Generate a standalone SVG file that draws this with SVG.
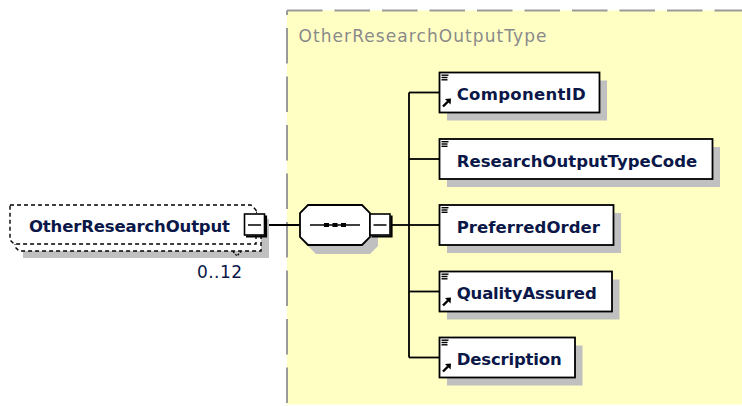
<svg xmlns="http://www.w3.org/2000/svg" xmlns:xlink="http://www.w3.org/1999/xlink" width="742" height="406" viewBox="0 0 742 406">
  <style>
    .conn { fill: none; stroke: #000; stroke-width: 1.8; }
    .box { fill: #fff; stroke: #000; stroke-width: 1.8; }
    .shadow { fill: #c0c0c0; }
    .opt { fill: #fff; stroke: #000; stroke-width: 1.4; stroke-dasharray: 4 3; }
    .frame { fill: none; stroke: #9a9a9a; stroke-width: 2; }
    .name { font-family: "DejaVu Sans", "Liberation Sans", sans-serif; font-weight: bold; font-size: 16.5px; fill: #0a1748; }
    .occ { font-family: "DejaVu Sans", "Liberation Sans", sans-serif; font-size: 17px; fill: #0a1748; }
    .typename { font-family: "DejaVu Sans", "Liberation Sans", sans-serif; font-size: 17px; fill: #8a8a8a; }
  </style>
  <defs>
    <!-- collapse button: white square, heavy right/bottom edge, minus sign -->
    <g id="btn">
      <rect x="0" y="0" width="20" height="21" fill="#fff" stroke="#000" stroke-width="1.6"/>
      <path d="M21.5,1.5 V22.5 H1.5" fill="none" stroke="#000" stroke-width="2.2"/>
      <path d="M3.5,11 H16.5" fill="none" stroke="#000" stroke-width="1.5"/>
    </g>
    <!-- simple-content marker in the top-left corner of an element -->
    <g id="lines">
      <rect x="0" y="0" width="7" height="1.4" fill="#000"/>
      <rect x="0" y="2.3" width="6" height="1.4" fill="#000"/>
      <rect x="0" y="4.6" width="6" height="1.4" fill="#000"/>
    </g>
    <!-- reference marker in the bottom-left corner of an element -->
    <g id="ref">
      <path d="M1,8 L6,3" fill="none" stroke="#000" stroke-width="2.4"/>
      <polygon points="3,0.6 9,0 8.6,6" fill="#000"/>
    </g>
  </defs>

  <!-- complex type area -->
  <g id="type-area">
    <rect x="287" y="10.5" width="460" height="394" fill="#ffffc4"/>
    <path class="frame" d="M287,10.5 H742" stroke-dasharray="35.5 12"/>
    <path class="frame" d="M287,10.5 V404" stroke-dasharray="35.5 13" stroke-dashoffset="31"/>
    <text class="typename" x="298.5" y="42" textLength="248">OtherResearchOutputType</text>
  </g>

  <!-- connectors -->
  <g id="connectors">
    <path class="conn" d="M267,225 H300"/>
    <path class="conn" d="M391.5,225 H409"/>
    <path class="conn" d="M409,92.5 V357.5"/>
    <path class="conn" d="M409,92.5 H439"/>
    <path class="conn" d="M409,159 H439"/>
    <path class="conn" d="M409,225 H439"/>
    <path class="conn" d="M409,291.5 H439"/>
    <path class="conn" d="M409,357.5 H439"/>
  </g>

  <!-- root element, optional and repeating -->
  <g id="OtherResearchOutput">
    <rect class="shadow" x="23" y="219" width="246" height="39"/>
    <path class="opt" d="M15,212 H256 L261,217 V251 H19 L15,247 Z"/>
    <path class="opt" d="M10,205 H251 L256,210 V244 H14 L10,240 Z"/>
    <path d="M233,251.5 L237,256 L241,251.5" fill="none" stroke="#000" stroke-width="1.2" stroke-dasharray="2 1.5"/>
    <text class="name" x="29" y="231.5" textLength="201">OtherResearchOutput</text>
    <use xlink:href="#btn" x="244.5" y="214"/>
    <text class="occ" x="197" y="277.5" textLength="45">0..12</text>
  </g>

  <!-- sequence compositor -->
  <g id="sequence">
    <polygon class="shadow" points="316,214 370,214 378,222 378,246 370,254 316,254 308,246 308,222"/>
    <polygon class="box" points="308,205 362,205 370,213 370,237 362,245 308,245 300,237 300,213"/>
    <path d="M310,225 H360" fill="none" stroke="#000" stroke-width="1.5"/>
    <rect x="324" y="223" width="5" height="4" fill="#000"/>
    <rect x="332.5" y="223" width="5" height="4" fill="#000"/>
    <rect x="341" y="223" width="5" height="4" fill="#000"/>
    <use xlink:href="#btn" x="370" y="214"/>
  </g>

  <!-- child elements -->
  <g id="ComponentID">
    <rect class="shadow" x="447" y="80.5" width="160" height="40"/>
    <rect class="box" x="439.5" y="72.5" width="160" height="40"/>
    <use xlink:href="#lines" x="441.5" y="74.5"/>
    <use xlink:href="#ref" x="442" y="98.5"/>
    <text class="name" x="456.7" y="100" textLength="129">ComponentID</text>
  </g>

  <g id="ResearchOutputTypeCode">
    <rect class="shadow" x="447" y="147" width="273" height="40"/>
    <rect class="box" x="439.5" y="139" width="273" height="40"/>
    <use xlink:href="#lines" x="441.5" y="141"/>
    <text class="name" x="456.7" y="166.5" textLength="240.5">ResearchOutputTypeCode</text>
  </g>

  <g id="PreferredOrder">
    <rect class="shadow" x="447" y="213" width="174" height="40"/>
    <rect class="box" x="439.5" y="205" width="174" height="40"/>
    <use xlink:href="#lines" x="441.5" y="207"/>
    <text class="name" x="456.7" y="232.5" textLength="143.3">PreferredOrder</text>
  </g>

  <g id="QualityAssured">
    <rect class="shadow" x="447" y="279.5" width="172.5" height="40"/>
    <rect class="box" x="439.5" y="271.5" width="172.5" height="40"/>
    <use xlink:href="#lines" x="441.5" y="273.5"/>
    <use xlink:href="#ref" x="442" y="297.5"/>
    <text class="name" x="456.7" y="299" textLength="140">QualityAssured</text>
  </g>

  <g id="Description">
    <rect class="shadow" x="447" y="345.5" width="135.5" height="40"/>
    <rect class="box" x="439.5" y="337.5" width="135.5" height="40"/>
    <use xlink:href="#lines" x="441.5" y="339.5"/>
    <use xlink:href="#ref" x="442" y="363.5"/>
    <text class="name" x="456.7" y="365" textLength="105">Description</text>
  </g>
</svg>
